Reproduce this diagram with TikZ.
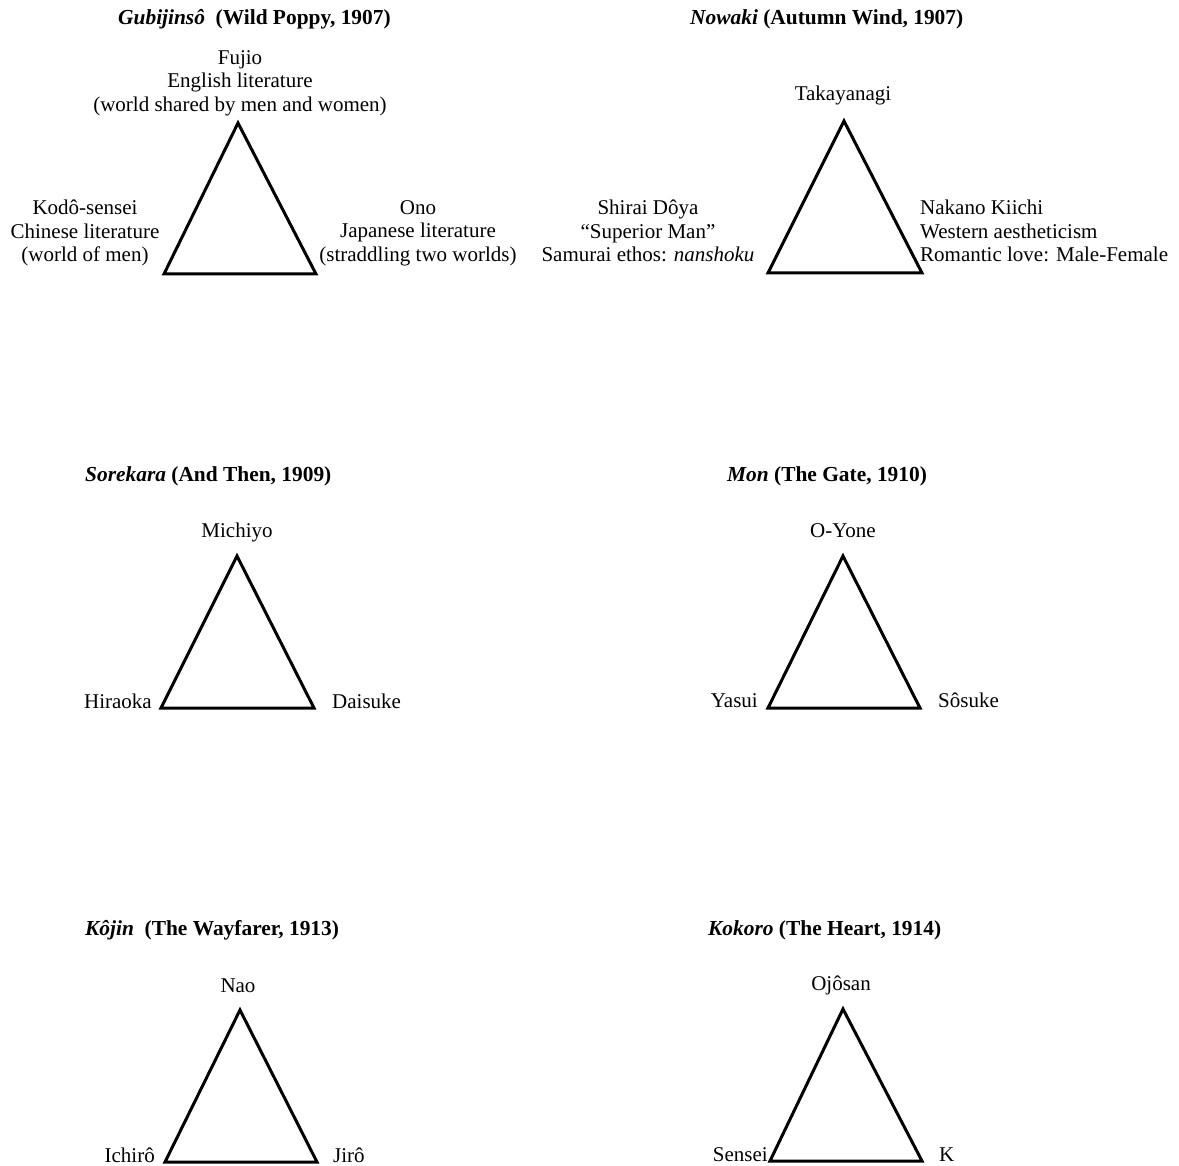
\documentclass[tikz,border=0pt]{standalone}
\usepackage{fontspec}
\setmainfont{Liberation Serif}
\tikzset{
  side/.style={line width=3pt},
  lbl/.style={inner sep=0pt, font=\fontsize{21}{23.5}\selectfont, align=center},
  ttl/.style={inner sep=0pt, anchor=base west, font=\fontsize{21.4}{24}\selectfont\bfseries},
}
\begin{document}
\begin{tikzpicture}[x=1pt,y=-1pt]
\useasboundingbox (0,0) rectangle (1179,1166);
% Gubijinso
\node (ttlG) [ttl] at (118,25) {\textit{Gubijinsô}\ \ (Wild Poppy, 1907)};
\coordinate (G1) at (238,123);
\coordinate (G2) at (164,274);
\coordinate (G3) at (316,274);
\draw[side] (G1) -- (G2) -- (G3) -- cycle;
\node (fujio) [lbl, anchor=north] at (240,50) {Fujio\\English literature\\(world shared by men and women)};
\node (kodo) [lbl, anchor=north] at (85,200) {Kodô-sensei\\Chinese literature\\(world of men)};
\node (ono) [lbl, anchor=north] at (418,200) {Ono\\Japanese literature\\(straddling two worlds)};
% Nowaki
\node (ttlN) [ttl] at (690,25) {\textit{Nowaki} (Autumn Wind, 1907)};
\coordinate (N1) at (844,121);
\coordinate (N2) at (768,273);
\coordinate (N3) at (922,273);
\draw[side] (N1) -- (N2) -- (N3) -- cycle;
\node (taka) [lbl, anchor=base] at (843,101) {Takayanagi};
\node (shirai) [lbl, anchor=north] at (648,200) {Shirai Dôya\\``Superior Man''\\Samurai ethos: \textit{nanshoku}};
\node (nakano) [lbl, align=left, anchor=north west] at (920,200) {Nakano Kiichi\\Western aestheticism\\Romantic love: Male-Female};
% Sorekara
\node (ttlS) [ttl] at (85,481) {\textit{Sorekara} (And Then, 1909)};
\coordinate (S1) at (237,556);
\coordinate (S2) at (161,708);
\coordinate (S3) at (314,708);
\draw[side] (S1) -- (S2) -- (S3) -- cycle;
\node (michiyo) [lbl, anchor=base] at (237,537) {Michiyo};
\node (hiraoka) [lbl, anchor=base east] at (152,708) {Hiraoka};
\node (daisuke) [lbl, anchor=base west] at (332,708) {Daisuke};
% Mon
\node (ttlM) [ttl] at (727,481) {\textit{Mon} (The Gate, 1910)};
\coordinate (M1) at (843,556);
\coordinate (M2) at (768,708);
\coordinate (M3) at (920,708);
\draw[side] (M1) -- (M2) -- (M3) -- cycle;
\node (oyone) [lbl, anchor=base] at (843,537) {O-Yone};
\node (yasui) [lbl, anchor=base east] at (758,707) {Yasui};
\node (sosuke) [lbl, anchor=base west] at (938,707) {Sôsuke};
% Kojin
\node (ttlK) [ttl] at (85,935) {\textit{Kôjin}\ \ (The Wayfarer, 1913)};
\coordinate (K1) at (240,1010);
\coordinate (K2) at (165,1162);
\coordinate (K3) at (317,1162);
\draw[side] (K1) -- (K2) -- (K3) -- cycle;
\node (nao) [lbl, anchor=base] at (238,992) {Nao};
\node (ichiro) [lbl, anchor=base east] at (155,1162) {Ichirô};
\node (jiro) [lbl, anchor=base west] at (333,1162) {Jirô};
% Kokoro
\node (ttlH) [ttl] at (708,935) {\textit{Kokoro} (The Heart, 1914)};
\coordinate (H1) at (843,1009);
\coordinate (H2) at (770,1161);
\coordinate (H3) at (922,1161);
\draw[side] (H1) -- (H2) -- (H3) -- cycle;
\node (ojosan) [lbl, anchor=base] at (841,990) {Ojôsan};
\node (sensei) [lbl, anchor=base east] at (768,1161) {Sensei};
\node (kk) [lbl, anchor=base west] at (939,1161) {K};
\end{tikzpicture}
\end{document}
